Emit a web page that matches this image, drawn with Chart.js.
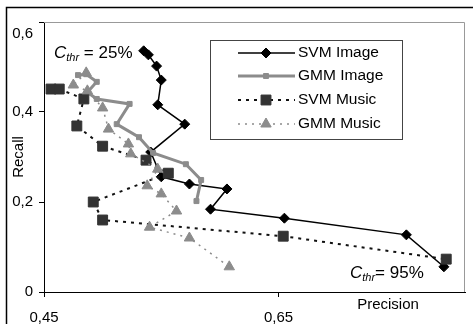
<!DOCTYPE html>
<html>
<head>
<meta charset="utf-8">
<script src="https://cdn.jsdelivr.net/npm/chart.js@4.4.1/dist/chart.umd.min.js"></script>
<style>
  html, body { margin: 0; padding: 0; background: #fff; }
  #wrap { width: 473px; height: 324px; position: relative; }
</style>
</head>
<body>
<div id="wrap"><canvas id="myChart" width="473" height="324"></canvas></div>
<script>
// values
let svmImagePrecision = [0.535, 0.539, 0.546, 0.550, 0.547, 0.570, 0.541, 0.550, 0.574, 0.606, 0.592, 0.655, 0.759, 0.791];
let svmImageRecall    = [0.536, 0.527, 0.502, 0.471, 0.416, 0.373, 0.311, 0.256, 0.240, 0.229, 0.184, 0.164, 0.127, 0.056];

let gmmImagePrecision = [0.479, 0.486, 0.495, 0.487, 0.495, 0.523, 0.512, 0.531, 0.543, 0.571, 0.584, 0.580];
let gmmImageRecall    = [0.482, 0.484, 0.467, 0.444, 0.429, 0.418, 0.373, 0.344, 0.309, 0.284, 0.249, 0.202];

let svmMusicPrecision = [0.456, 0.463, 0.484, 0.478, 0.500, 0.537, 0.556, 0.492, 0.500, 0.654, 0.793];
let svmMusicRecall    = [0.451, 0.451, 0.429, 0.369, 0.324, 0.293, 0.264, 0.200, 0.160, 0.124, 0.073];

let gmmMusicPrecision = [0.486, 0.475, 0.487, 0.500, 0.505, 0.522, 0.524, 0.547, 0.538, 0.550, 0.563, 0.540, 0.574, 0.608];
let gmmMusicRecall    = [0.487, 0.460, 0.447, 0.409, 0.362, 0.329, 0.307, 0.273, 0.236, 0.218, 0.180, 0.144, 0.120, 0.056];

let xTicks = [0.45, 0.65];
let yTicks = [0, 0.2, 0.4, 0.6];

const FONT = 'Liberation Sans, Arial, sans-serif';

function toPoints(xs, ys) {
    return xs.map((x, i) => ({ x: x, y: ys[i] }));
}
function commaLabel(v) {
    return String(v).replace('.', ',');
}

// extra drawing: frame, legend, notes, axis titles
const decorations = {
    id: 'decorations',
    afterDraw(chart) {
        const ctx = chart.ctx;
        const a = chart.chartArea;
        ctx.save();

        // outer chart border (cut off right and bottom)
        ctx.strokeStyle = '#000';
        ctx.lineWidth = 1.5;
        ctx.beginPath();
        ctx.moveTo(6.5, 324);
        ctx.lineTo(6.5, 7.5);
        ctx.lineTo(473, 7.5);
        ctx.stroke();

        // plot area top / right
        ctx.strokeStyle = '#999';
        ctx.lineWidth = 1;
        ctx.beginPath();
        ctx.moveTo(a.left, a.top + 0.5);
        ctx.lineTo(a.right - 0.5, a.top + 0.5);
        ctx.lineTo(a.right - 0.5, a.bottom);
        ctx.stroke();

        // top y label, set a bit lower like the original
        ctx.fillStyle = '#000';
        ctx.font = '15px ' + FONT;
        ctx.textAlign = 'right';
        ctx.textBaseline = 'middle';
        ctx.fillText(commaLabel(yTicks[yTicks.length - 1]), 33, 34);

        // axis titles
        ctx.textAlign = 'center';
        ctx.fillText('Precision', 388, 305);
        ctx.save();
        ctx.translate(19, 157);
        ctx.rotate(-Math.PI / 2);
        ctx.fillText('Recall', 0, 0);
        ctx.restore();

        // C_thr notes
        function note(x, y, rest) {
            ctx.textAlign = 'left';
            ctx.textBaseline = 'alphabetic';
            ctx.font = 'italic 17px ' + FONT;
            ctx.fillText('C', x, y);
            x += ctx.measureText('C').width;
            ctx.font = 'italic 11px ' + FONT;
            ctx.fillText('thr', x, y + 3);
            x += ctx.measureText('thr').width;
            ctx.font = '17px ' + FONT;
            ctx.fillText(rest, x, y);
        }
        note(54, 58, ' = 25%');
        note(350, 278, '= 95%');

        // legend box
        ctx.fillStyle = '#fff';
        ctx.fillRect(210, 40, 192, 99);
        ctx.strokeStyle = '#444';
        ctx.lineWidth = 1;
        ctx.strokeRect(210.5, 40.5, 192, 99);

        const rows = [53, 76, 100, 124];
        chart.data.datasets.forEach((ds, i) => {
            const y = rows[i];
            ctx.save();
            ctx.strokeStyle = ds.borderColor;
            ctx.lineWidth = ds.borderWidth;
            ctx.setLineDash(ds.borderDash || []);
            ctx.beginPath();
            ctx.moveTo(238, y);
            ctx.lineTo(295, y);
            ctx.stroke();
            ctx.restore();

            ctx.save();
            ctx.fillStyle = ds.pointBackgroundColor;
            ctx.strokeStyle = ds.pointBorderColor;
            ctx.lineWidth = 1;
            ctx.setLineDash([]);
            Chart.helpers.drawPoint(ctx, {
                pointStyle: ds.pointStyle,
                radius: ds.pointRadius,
                borderWidth: 1
            }, 266, y);
            ctx.restore();

            ctx.fillStyle = '#000';
            ctx.font = '15.5px ' + FONT;
            ctx.textAlign = 'left';
            ctx.textBaseline = 'middle';
            ctx.fillText(ds.label, 298, y);
        });

        ctx.restore();
    }
};

const ctxEl = document.getElementById('myChart');

const chart = new Chart(ctxEl, {
    type: 'scatter',
    data: {
        datasets: [{
            label: 'SVM Image',
            data: toPoints(svmImagePrecision, svmImageRecall),
            showLine: true,
            borderColor: '#000',
            borderWidth: 1.5,
            pointStyle: 'rectRot',
            pointRadius: 5,
            pointBackgroundColor: '#000',
            pointBorderColor: '#000',
            pointBorderWidth: 1,
            order: 4
        }, {
            label: 'GMM Image',
            data: toPoints(gmmImagePrecision, gmmImageRecall),
            showLine: true,
            borderColor: '#8c8c8c',
            borderWidth: 3,
            pointStyle: 'rect',
            pointRadius: 3.5,
            pointBackgroundColor: '#8c8c8c',
            pointBorderColor: '#8c8c8c',
            pointBorderWidth: 1,
            order: 3
        }, {
            label: 'SVM Music',
            data: toPoints(svmMusicPrecision, svmMusicRecall),
            showLine: true,
            borderColor: '#111',
            borderWidth: 2,
            borderDash: [3, 5],
            pointStyle: 'rect',
            pointRadius: 7,
            pointBackgroundColor: '#333',
            pointBorderColor: '#333',
            pointBorderWidth: 1,
            order: 2
        }, {
            label: 'GMM Music',
            data: toPoints(gmmMusicPrecision, gmmMusicRecall),
            showLine: true,
            borderColor: '#8c8c8c',
            borderWidth: 1.5,
            borderDash: [2, 5],
            pointStyle: 'triangle',
            pointRadius: 6,
            pointBackgroundColor: '#8c8c8c',
            pointBorderColor: '#8c8c8c',
            pointBorderWidth: 1,
            order: 1
        }]
    },
    options: {
        responsive: false,
        animation: false,
        layout: { padding: { left: 0, top: 22, right: 2, bottom: 0 } },
        plugins: {
            legend: { display: false },
            tooltip: { enabled: false }
        },
        scales: {
            x: {
                type: 'linear',
                min: 0.45,
                max: 0.809,
                afterBuildTicks: (s) => { s.ticks = xTicks.map(v => ({ value: v })); },
                afterFit: (s) => { s.height = 32; },
                ticks: {
                    callback: (v) => commaLabel(v),
                    font: { family: FONT, size: 15 },
                    color: '#000',
                    padding: 12,
                    maxRotation: 0
                },
                grid: { display: true, drawOnChartArea: false, drawTicks: true, tickLength: 5, color: '#000' },
                border: { color: '#000', width: 1 }
            },
            y: {
                min: 0,
                max: 0.6,
                afterBuildTicks: (s) => { s.ticks = yTicks.map(v => ({ value: v })); },
                afterFit: (s) => { s.width = 44; },
                ticks: {
                    callback: (v) => (v === yTicks[yTicks.length - 1] ? '' : commaLabel(v)),
                    font: { family: FONT, size: 15 },
                    color: '#000',
                    padding: 6
                },
                grid: { display: true, drawOnChartArea: false, drawTicks: true, tickLength: 5, color: '#000' },
                border: { color: '#000', width: 1 }
            }
        }
    },
    plugins: [decorations]
});
</script>
</body>
</html>
